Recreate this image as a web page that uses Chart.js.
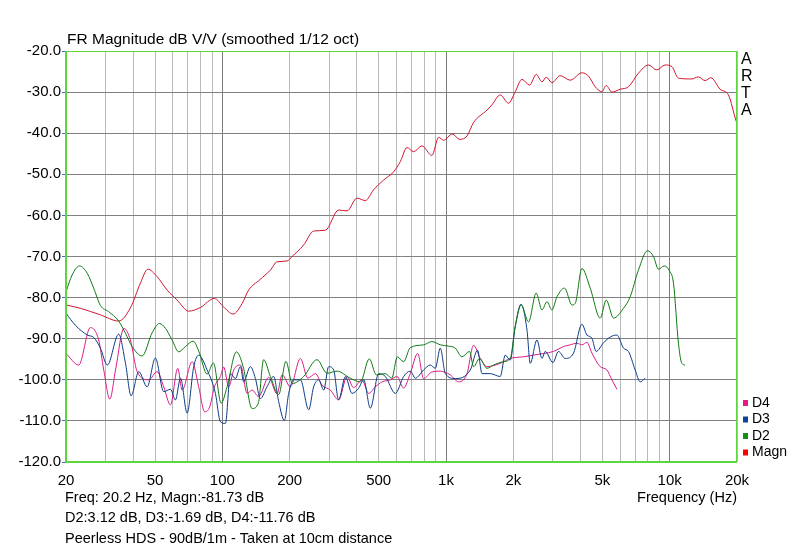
<!DOCTYPE html>
<html>
  <head>
    <script src="https://cdn.jsdelivr.net/npm/chart.js"></script>
    <style>
      body { margin: 0; background: #fff; }
    </style>
  </head>
  <body>
    <canvas id="fr-chart" width="800" height="551"></canvas>
    <script>
      // frequency grid and labels (Hz)
      var xGrid = [20, 30, 40, 50, 60, 70, 80, 90, 100, 200, 300, 400, 500, 600, 700, 800, 900,
                   1000, 2000, 3000, 4000, 5000, 6000, 7000, 8000, 9000, 10000, 20000];
      var xMajor = [100, 1000, 10000];
      var xLabels = { 20: '20', 50: '50', 100: '100', 200: '200', 500: '500', 1000: '1k',
                      2000: '2k', 5000: '5k', 10000: '10k', 20000: '20k' };

      // Magn (red)
      var magnFreq = [20, 23.2, 28.5, 34.4, 38.8, 43.1, 46.4, 51.1, 56.7, 62.8,
                      70.8, 79.8, 92.2, 101, 111.7, 122.7, 131, 146.8, 164, 175.6,
                      194.6, 205, 231, 256, 289, 331, 361, 400, 436, 474,
                      526, 583, 625, 669, 716, 780, 865, 927, 975, 1067,
                      1152, 1241, 1328, 1524, 1605, 1748, 1904, 2040, 2185, 2364,
                      2532, 2685, 2806, 2976, 3240, 3592, 4052, 4336, 4646, 4978,
                      5204, 5516, 6008, 6544, 7252, 8036, 8764, 9544, 10226, 10940,
                      12560, 13440, 14400, 15280, 16810, 18310, 19820, 20000];
      var magnDb = [-81.8, -82.6, -84.2, -85.7, -82.5, -76.4, -73.1, -74.9, -78.2, -80.6,
                    -83.3, -82.4, -80.2, -82.2, -84.0, -81.4, -78.2, -75.7, -73.3, -71.3,
                    -71.1, -70.0, -67.2, -63.8, -63.6, -58.7, -58.9, -55.8, -56.4, -53.8,
                    -51.4, -49.4, -46.9, -43.5, -44.5, -43.1, -45.4, -41.0, -41.7, -40.2,
                    -41.5, -40.7, -37.4, -34.4, -33.1, -30.7, -32.7, -29.9, -26.9, -28.3,
                    -25.7, -27.5, -26.4, -27.7, -26.0, -27.1, -25.3, -26.1, -28.7, -29.9,
                    -28.4, -30.0, -29.3, -28.7, -25.4, -23.4, -24.6, -23.4, -23.8, -26.6,
                    -26.8, -26.3, -27.2, -26.5, -29.3, -30.7, -37.0, -37.5];

      // D2 (green)
      var d2Freq = [20, 21.3, 23.0, 24.9, 26.6, 28.5, 31.0, 34.4, 36.9, 39.5,
                    43.8, 48.5, 52.4, 55.7, 59.6, 63.8, 68.4, 74.0, 78.4, 85.5,
                    91.2, 98.8, 105, 115.6, 123.9, 135.9, 145, 153, 164, 178.7,
                    192.4, 205.6, 231, 265, 294, 326, 373, 414, 454, 488,
                    535, 572, 606, 646, 692, 794, 865, 944, 1027, 1100,
                    1178, 1274, 1328, 1413, 1525, 1632, 1808, 1937, 2040, 2169,
                    2339, 2530, 2686, 2828, 2976, 3134, 3389, 3657, 3782, 4051,
                    4414, 4893, 5203, 5611, 6214, 6660, 7250, 7956, 8463, 8912,
                    9445, 9979, 10400, 10944, 11337, 11730];
      var d2Db = [-78.6, -74.5, -72.3, -74.1, -77.7, -81.9, -83.4, -85.7, -88.7, -91.9,
                  -94.2, -88.6, -86.3, -87.5, -90.3, -93.2, -91.9, -90.6, -93.0, -98.6,
                  -95.9, -105.7, -101.7, -93.2, -96.8, -107.0, -105.6, -95.1, -99.2, -103.6,
                  -95.5, -100.9, -99.2, -95.1, -98.4, -97.9, -99.6, -100.5, -94.9, -98.8,
                  -98.5, -99.6, -94.4, -95.6, -92.2, -91.5, -90.7, -91.5, -91.8, -92.3,
                  -94.4, -93.1, -96.8, -94.8, -97.2, -96.4, -95.6, -94.8, -87.0, -81.8,
                  -85.9, -78.9, -83.0, -81.0, -83.0, -79.8, -77.7, -81.8, -81.4, -72.9,
                  -77.7, -85.0, -80.6, -85.0, -82.6, -79.8, -73.3, -68.6, -70.0, -73.1,
                  -72.3, -73.5, -76.5, -91.1, -96.0, -96.4];

      // D3 (blue)
      var d3Freq = [20, 22.0, 24.9, 26.6, 28.5, 30.6, 34.4, 36.9, 39.1, 42.3,
                    46.1, 50.2, 54.7, 58.6, 61.7, 65.0, 69.6, 74.5, 78.4, 85.5,
                    93.1, 98.0, 103.2, 108.7, 114.4, 120.5, 124.5, 133.4, 140.6, 147.9,
                    158.4, 169.6, 178.6, 189.3, 198, 208.5, 223.4, 243.3, 256, 269.6,
                    283.9, 298.8, 314.6, 331, 354.9, 380, 406.4, 428.5, 458.9, 500,
                    535.5, 593.6, 646.6, 692.3, 729.5, 794.3, 851, 895.6, 943, 993,
                    1100, 1284, 1384, 1449, 1577, 1747, 1841, 1937, 2040, 2163,
                    2302, 2380, 2550, 2686, 2777, 3007, 3185, 3412, 3717, 4051,
                    4267, 4491, 4692, 5059, 5420, 5808, 6217, 6543, 7010, 7381,
                    7770];
      var d3Db = [-83.8, -86.7, -89.1, -89.7, -92.3, -96.4, -88.9, -96.0, -103.9, -98.0,
                  -101.7, -94.7, -102.9, -102.3, -104.9, -99.6, -108.1, -96.8, -94.0, -97.6,
                  -103.3, -110.2, -110.6, -98.5, -99.7, -96.8, -100.5, -96.8, -99.7, -104.6,
                  -101.7, -99.2, -105.3, -109.9, -103.3, -100.0, -100.0, -107.3, -101.7, -100.0,
                  -102.5, -96.8, -97.6, -104.9, -99.2, -103.3, -102.1, -100.0, -106.9, -98.5,
                  -99.2, -103.3, -99.2, -97.9, -99.6, -97.6, -96.4, -97.2, -92.3, -98.5,
                  -99.7, -97.6, -92.8, -98.5, -98.5, -99.2, -94.0, -95.2, -87.0, -81.6,
                  -87.9, -96.0, -90.3, -94.8, -93.1, -95.8, -93.1, -94.8, -93.5, -86.5,
                  -89.1, -89.9, -93.1, -91.0, -89.6, -89.1, -92.3, -93.1, -97.6, -100.5,
                  -99.6];

      // D4 (magenta)
      var d4Freq = [20, 22.8, 25.7, 28.0, 29.5, 31.4, 33.3, 36.3, 38.8, 41.6,
                    46.9, 51.1, 54.7, 58.6, 63.2, 66.1, 73.3, 78.4, 83.4, 87.8,
                    92.2, 98.0, 101.4, 106.8, 112.5, 120.5, 129.1, 135.9, 145.4, 161,
                    175.6, 185, 201.4, 223.4, 241, 260.6, 279, 304, 331, 361,
                    386, 421, 451, 483, 518, 564, 604, 646, 692, 747,
                    794, 865, 943, 1045, 1138, 1241, 1328, 1423, 1525, 1747,
                    1937, 2221, 2462, 2729, 3025, 3351, 3590, 3845, 4051, 4267,
                    4491, 4893, 5238, 5515, 5808];
      var d4Db = [-93.6, -96.4, -87.3, -90.3, -97.6, -104.7, -97.6, -87.5, -90.3, -98.0,
                  -100.0, -98.0, -101.7, -106.1, -97.2, -102.5, -95.6, -101.7, -107.8, -106.6,
                  -101.7, -99.2, -96.9, -101.7, -97.6, -96.4, -103.3, -102.5, -104.1, -99.4,
                  -103.4, -98.8, -101.7, -94.8, -99.6, -98.5, -101.3, -102.5, -104.9, -99.2,
                  -101.9, -100.0, -103.3, -101.7, -100.5, -100.0, -99.2, -102.0, -98.5, -93.6,
                  -99.7, -98.1, -97.9, -98.8, -100.5, -98.5, -91.6, -94.8, -96.8, -96.0,
                  -94.8, -94.4, -94.0, -93.6, -93.1, -91.9, -91.5, -91.1, -91.5, -90.9,
                  -93.5, -96.8, -97.6, -100.0, -102.3];

      var FONT = '"Liberation Sans", Arial, sans-serif';
      Chart.defaults.font.family = FONT;
      Chart.defaults.color = '#000';

      function pts(freq, db) {
        return freq.map(function (f, i) { return { x: f, y: db[i] }; });
      }

      function series(label, freq, db, color) {
        return {
          label: label,
          data: pts(freq, db),
          borderColor: color,
          borderWidth: 1,
          pointRadius: 0,
          fill: false,
          cubicInterpolationMode: 'monotone'
        };
      }

      // title, side text, legend and frame
      var decor = {
        id: 'decor',
        afterDatasetsDraw: function (chart) {
          var c = chart.ctx, a = chart.chartArea;
          c.save();
          c.strokeStyle = '#5cd63c';
          c.lineWidth = 1;
          c.strokeRect(a.left + 0.5, a.top + 0.5, a.right - a.left - 1, a.bottom - a.top - 1);
          c.lineWidth = 2;
          c.beginPath();
          c.moveTo(a.left, a.top);
          c.lineTo(a.left, a.bottom);
          c.lineTo(a.right, a.bottom);
          c.stroke();

          c.fillStyle = '#000';
          c.textBaseline = 'middle';
          c.font = '15.5px ' + FONT;
          c.fillText('FR Magnitude dB V/V (smoothed 1/12 oct)', 67, 40);
          c.font = '16px ' + FONT;
          ['A', 'R', 'T', 'A'].forEach(function (ch, i) {
            c.fillText(ch, 741, 60 + i * 16.7);
          });

          c.font = '14.5px ' + FONT;
          c.fillText('Freq: 20.2 Hz, Magn:-81.73 dB', 65, 498);
          c.fillText('D2:3.12 dB, D3:-1.69 dB, D4:-11.76 dB', 65, 518);
          c.fillText('Peerless HDS - 90dB/1m - Taken at 10cm distance', 65, 539);
          c.textAlign = 'right';
          c.fillText('Frequency (Hz)', 737, 498);

          var legend = [['D4', '#e8197f'], ['D3', '#0a4696'], ['D2', '#129012'], ['Magn', '#ff0000']];
          c.textAlign = 'left';
          c.font = '14px ' + FONT;
          legend.forEach(function (l, i) {
            var y = 403 + i * 16.5;
            c.fillStyle = l[1];
            c.fillRect(743, y - 3, 5, 6);
            c.fillStyle = '#000';
            c.fillText(l[0], 752, y);
          });
          c.restore();
        }
      };

      var ctx = document.getElementById('fr-chart').getContext('2d');
      var frChart = new Chart(ctx, {
        type: 'line',
        data: {
          datasets: [
            series('D2', d2Freq, d2Db, '#0e7a12'),
            series('D3', d3Freq, d3Db, '#0b3c86'),
            series('D4', d4Freq, d4Db, '#dc1a86'),
            series('Magn', magnFreq, magnDb, '#d0142e')
          ]
        },
        options: {
          responsive: false,
          animation: false,
          devicePixelRatio: 1,
          layout: { padding: { top: 51, right: 63, left: 0, bottom: 0 } },
          plugins: { legend: { display: false }, title: { display: false }, tooltip: { enabled: false } },
          scales: {
            x: {
              type: 'logarithmic',
              min: 20,
              max: 20000,
              afterFit: function (s) { s.height = 89; },
              afterBuildTicks: function (s) {
                s.ticks = xGrid.map(function (v) { return { value: v }; });
              },
              border: { display: false },
              grid: {
                drawTicks: false,
                color: function (c) {
                  return xMajor.indexOf(c.tick && c.tick.value) >= 0 ? '#7c7c7c' : '#b8b8b8';
                }
              },
              ticks: {
                autoSkip: false,
                maxRotation: 0,
                padding: 10,
                font: { size: 15 },
                callback: function (v) { return xLabels[v] || ''; }
              }
            },
            y: {
              min: -120,
              max: -20,
              afterFit: function (s) { s.width = 66; },
              border: { display: false },
              grid: { color: '#808080', tickLength: 4, tickColor: '#3a6ed0' },
              ticks: {
                stepSize: 10,
                padding: 1,
                font: { size: 15 },
                callback: function (v) { return v.toFixed(1); }
              }
            }
          }
        },
        plugins: [decor]
      });
    </script>
  </body>
</html>
